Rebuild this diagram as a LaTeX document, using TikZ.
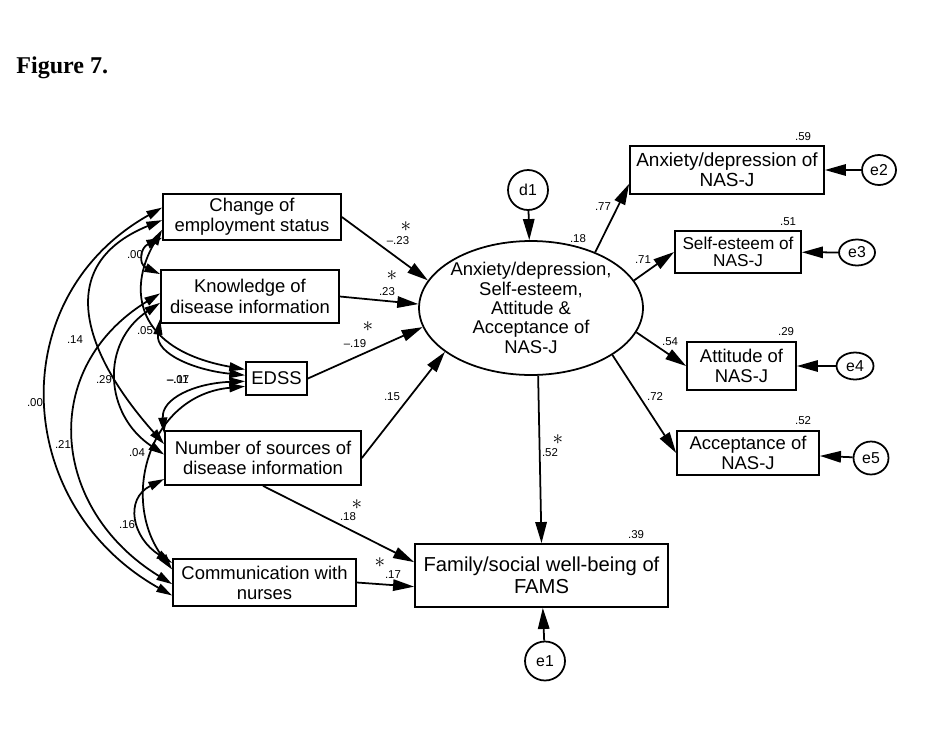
\documentclass[tikz,border=0pt]{standalone}
\usepackage{fontspec}
\setmainfont{Liberation Sans}
\newfontfamily\titlefont{Liberation Serif}
\usetikzlibrary{arrows.meta,shapes.geometric}

\begin{document}
\begin{tikzpicture}[x=0.02cm,y=-0.02cm,>={Triangle[length=9pt,width=5pt]},
  box/.style={draw,line width=1pt,align=center,inner sep=0pt,font=\fontsize{10.5}{11.5}\selectfont},
  err/.style={draw,ellipse,line width=1pt,inner sep=0pt,font=\fontsize{9}{10}\selectfont},
  coef/.style={inner sep=0pt,font=\fontsize{6.5}{7}\selectfont},
  sig/.style={inner sep=0pt,font=\fontsize{13}{13}\selectfont},
  arr/.style={-{Triangle[length=12pt,width=6.5pt]},line width=1pt},
  cov/.style={<->,line width=1pt}]
\useasboundingbox (0,0) rectangle (945,730);
\node[anchor=base west,inner sep=0pt,font=\titlefont\bfseries\fontsize{13.7}{15}\selectfont] (fig) at (16,73) {Figure 7.};

\node[box,minimum width=3.56cm,minimum height=0.92cm] (chg) at (252,217) {Change of\\employment status};
\node[box,minimum width=3.56cm,minimum height=1.06cm] (know) at (250,296.5) {Knowledge of\\disease information};
\node[box,minimum width=1.22cm,minimum height=0.66cm] (edss) at (276.5,378.5) {EDSS};
\node[box,minimum width=3.92cm,minimum height=1.08cm] (nsrc) at (263,458) {Number of sources of\\disease information};
\node[box,minimum width=3.66cm,minimum height=0.94cm] (comm) at (264.5,582.5) {Communication with\\nurses};
\node[box,ellipse,inner sep=-2pt,minimum width=4.48cm,minimum height=2.68cm,font=\fontsize{10.5}{11}\selectfont] (lat) at (531,308) {Anxiety/depression,\\Self-esteem,\\Attitude \&\\Acceptance of\\NAS-J};
\node[box,minimum width=3.88cm,minimum height=0.96cm,font=\fontsize{10.8}{11.5}\selectfont] (anx) at (727,170) {Anxiety/depression of\\NAS-J};
\node[box,minimum width=2.52cm,minimum height=0.84cm,font=\fontsize{9.8}{10}\selectfont] (self) at (738,252) {Self-esteem of\\NAS-J};
\node[box,minimum width=2.18cm,minimum height=0.96cm] (att) at (741.5,366) {Attitude of\\NAS-J};
\node[box,minimum width=2.84cm,minimum height=0.88cm] (acc) at (748,453) {Acceptance of\\NAS-J};
\node[box,minimum width=5.06cm,minimum height=1.26cm,font=\fontsize{11.5}{12.5}\selectfont] (fam) at (541.5,575.5) {Family/social well-being of\\FAMS};

\node[err,minimum width=0.8cm,minimum height=0.8cm] (d1) at (528,190) {d1};
\node[err,minimum width=0.8cm,minimum height=0.78cm] (e1) at (545,661) {e1};
\node[err,minimum width=0.68cm,minimum height=0.6cm] (e2) at (879,170) {e2};
\node[err,minimum width=0.72cm,minimum height=0.52cm] (e3) at (857,252.5) {e3};
\node[err,minimum width=0.74cm,minimum height=0.54cm] (e4) at (855,366) {e4};
\node[err,minimum width=0.7cm,minimum height=0.66cm] (e5) at (871,458) {e5};

\draw[arr] (d1) -- (lat);
\draw[arr] (chg.east) -- (lat.165);
\draw[arr] (know.east) -- (lat.178);
\draw[arr] (edss.east) -- (lat.190);
\draw[arr] (nsrc.east) -- (lat.207);
\draw[arr] (nsrc.south) -- (fam.174);
\draw[arr] (comm.east) -- (fam.185);
\draw[arr] (lat.276) -- (fam.north);
\draw[arr] (lat.41) -- (anx.188);
\draw[arr] (lat.15) -- (self.west);
\draw[arr] (lat.347) -- (att.west);
\draw[arr] (lat.330) -- (acc.west);
\foreach \e/\v in {e1/fam,e2/anx,e3/self,e4/att,e5/acc}
  \draw[arr] (\e) -- (\v);

\draw[cov] (chg.174) .. controls +(-160,90) and +(-160,-90) .. (comm.188);
\draw[cov] (chg.182) .. controls +(-110,45) and +(-80,-90) .. (nsrc.172);
\draw[cov] (know.178) .. controls +(-122,75) and +(-122,-75) .. (comm.181);
\draw[cov] (know.184) .. controls +(-60,40) and +(-60,-40) .. (nsrc.178);
\draw[cov] (chg.193) .. controls +(-22,10) and +(-22,-10) .. (know.166);
\draw[cov] (chg.188) .. controls +(-35,60) and +(-110,-20) .. (edss.164);
\draw[cov] (know.194) .. controls +(-5,35) and +(-50,-5) .. (edss.174);
\draw[cov] (edss.185) .. controls +(-50,2) and +(-3,-35) .. (nsrc.166);
\draw[cov] (edss.194) .. controls +(-96,9) and +(-53,-70) .. (comm.172);
\draw[cov] (nsrc.192) .. controls +(-40,20) and +(-40,-25) .. (comm.168);

\node[coef] (r1) at (803,137) {.59};
\node[coef] (r2) at (788,222) {.51};
\node[coef] (r3) at (786,332) {.29};
\node[coef] (r4) at (803,421) {.52};
\node[coef] (r5) at (636,535) {.39};
\node[coef] (r6) at (578,239) {.18};
\node[coef] (c1) at (603,207) {.77};
\node[coef] (c2) at (643,260) {.71};
\node[coef] (c3) at (670,342) {.54};
\node[coef] (c4) at (655,397) {.72};
\node[coef] (c5) at (550,453) {.52};
\node[coef] (c6) at (398,241) {--.23};
\node[coef] (c7) at (387,292) {.23};
\node[coef] (c8) at (355,344) {--.19};
\node[coef] (c9) at (392,397) {.15};
\node[coef] (c10) at (348,517) {.18};
\node[coef] (c11) at (393,575) {.17};
\node[sig] (s1) at (406,227) {$\ast$};
\node[sig] (s2) at (392,276) {$\ast$};
\node[sig] (s3) at (368,327) {$\ast$};
\node[sig] (s4) at (558,440) {$\ast$};
\node[sig] (s5) at (357,505) {$\ast$};
\node[sig] (s6) at (380,563) {$\ast$};
\node[coef] (v1) at (135,255) {.00};
\node[coef] (v2) at (75,340) {.14};
\node[coef] (v3) at (104,380) {.29};
\node[coef] (v4) at (145,331) {.05};
\node[coef] (v5) at (178,380) {--.07};
\node[coef] (v6) at (178,380) {--.11};
\node[coef] (v7) at (35,403) {.00};
\node[coef] (v8) at (63,445) {.21};
\node[coef] (v9) at (137,453) {.04};
\node[coef] (v10) at (127,525) {.16};
\end{tikzpicture}
\end{document}
